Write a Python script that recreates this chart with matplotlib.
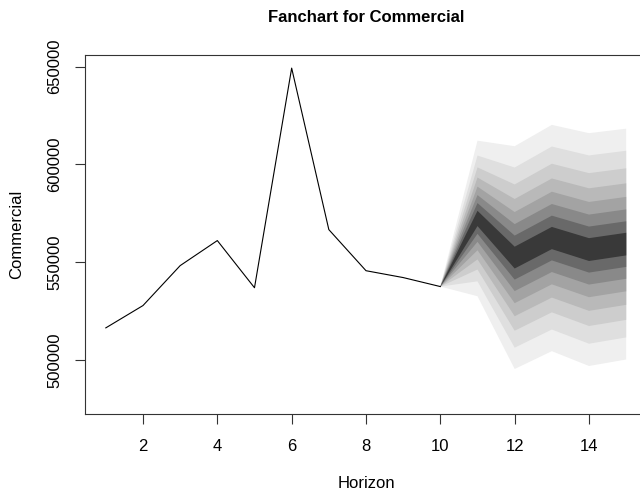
import numpy as np
import matplotlib
matplotlib.use("Agg")
import matplotlib.pyplot as plt

plt.rcParams['font.family'] = ['Liberation Sans', 'DejaVu Sans']

# Observed series (horizon 1..10)
obs_x = [1, 2, 3, 4, 5, 6, 7, 8, 9, 10]
obs_y = [516500, 527900, 548300, 561100, 537000, 649200, 566700, 545700, 542200, 537600]

# Forecast (horizon 11..15): point forecast and standard error
fc_x = [11, 12, 13, 14, 15]
fc_mean = [572400, 552400, 562400, 556500, 559300]
fc_se = [31000, 44400, 45100, 46400, 46000]

# confidence levels of the fan (vars::fanchart default)
cis = [0.1, 0.2, 0.3, 0.4, 0.5, 0.6, 0.7, 0.8, 0.9]
z_vals = [0.1257, 0.2533, 0.3853, 0.5244, 0.6745, 0.8416, 1.0364, 1.2816, 1.6449]

x_ticks = [2, 4, 6, 8, 10, 12, 14]
y_ticks = [500000, 550000, 600000, 650000]

W, H = 640, 492
fig = plt.figure(figsize=(W / 100, H / 100), dpi=100)
left, right, top, bottom = 85, 647, 55, 414
ax = fig.add_axes([left / W, 1 - bottom / H, (right - left) / W, (bottom - top) / H])

ax.plot(obs_x, obs_y, color='black', lw=0.8, zorder=3)

n = len(cis)
grays = np.sqrt(np.linspace(0.05, 1.0, n))
x_poly = [obs_x[-1]] + fc_x
for j in range(n - 1, -1, -1):
    upper = [obs_y[-1]] + [m + z_vals[j] * s for m, s in zip(fc_mean, fc_se)]
    lower = [obs_y[-1]] + [m - z_vals[j] * s for m, s in zip(fc_mean, fc_se)]
    g = grays[j]
    ax.fill(x_poly + x_poly[::-1], upper + lower[::-1], color=(g, g, g), lw=0, zorder=2)

ax.set_xlim(0.44, 15.56)
ax.set_ylim(472500, 655900)
ax.set_xticks(x_ticks)
ax.set_yticks(y_ticks)
ax.set_xticklabels([str(t) for t in x_ticks])
ax.set_yticklabels([str(t) for t in y_ticks], rotation=90, va='center')
ax.tick_params(direction='out', length=7.2, width=0.8, labelsize=12, color='#333333')
ax.tick_params(axis='x', pad=11)
ax.tick_params(axis='y', pad=9)
for s in ax.spines.values():
    s.set_linewidth(0.8)
    s.set_color('#333333')

fig.text(366 / W, 1 - 18 / H, 'Fanchart for Commercial', ha='center', va='center',
         fontsize=12, fontweight='bold')
fig.text(366 / W, 1 - 484 / H, 'Horizon', ha='center', va='center', fontsize=12)
fig.text(17 / W, 1 - 234 / H, 'Commercial', ha='center', va='center', fontsize=12, rotation=90)

fig.savefig('out.png', dpi=100)
